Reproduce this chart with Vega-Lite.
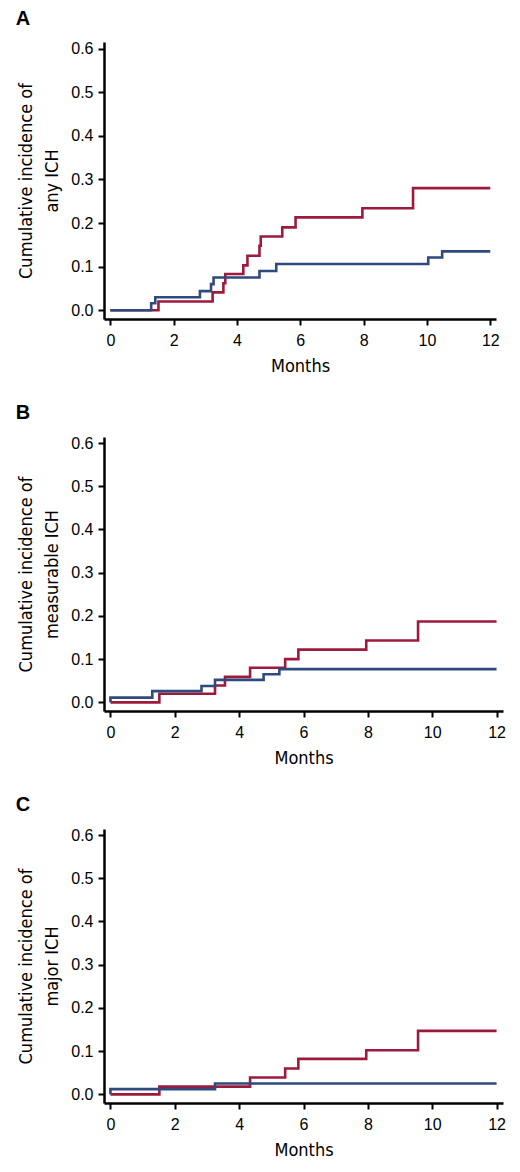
{
  "$schema": "https://vega.github.io/schema/vega-lite/v6.json",
  "padding": {"left": 15, "top": 8, "right": 8, "bottom": 5},
  "background": "white",
  "spacing": 28,
  "datasets": {
    "ich": [
      {"panel": "A", "arm": "Arm 1", "i": 1, "t": 0, "v": 0},
      {"panel": "A", "arm": "Arm 1", "i": 2, "t": 1.52, "v": 0.02},
      {"panel": "A", "arm": "Arm 1", "i": 3, "t": 3.23, "v": 0.041},
      {"panel": "A", "arm": "Arm 1", "i": 4, "t": 3.57, "v": 0.062},
      {"panel": "A", "arm": "Arm 1", "i": 5, "t": 3.63, "v": 0.083},
      {"panel": "A", "arm": "Arm 1", "i": 6, "t": 4.2, "v": 0.103},
      {"panel": "A", "arm": "Arm 1", "i": 7, "t": 4.33, "v": 0.125},
      {"panel": "A", "arm": "Arm 1", "i": 8, "t": 4.71, "v": 0.148},
      {"panel": "A", "arm": "Arm 1", "i": 9, "t": 4.75, "v": 0.169},
      {"panel": "A", "arm": "Arm 1", "i": 10, "t": 5.43, "v": 0.19},
      {"panel": "A", "arm": "Arm 1", "i": 11, "t": 5.85, "v": 0.213},
      {"panel": "A", "arm": "Arm 1", "i": 12, "t": 7.96, "v": 0.234},
      {"panel": "A", "arm": "Arm 1", "i": 13, "t": 9.56, "v": 0.28},
      {"panel": "A", "arm": "Arm 1", "i": 14, "t": 12, "v": 0.28},
      {"panel": "A", "arm": "Arm 2", "i": 1, "t": 0, "v": 0},
      {"panel": "A", "arm": "Arm 2", "i": 2, "t": 1.29, "v": 0.016},
      {"panel": "A", "arm": "Arm 2", "i": 3, "t": 1.42, "v": 0.03},
      {"panel": "A", "arm": "Arm 2", "i": 4, "t": 2.83, "v": 0.044},
      {"panel": "A", "arm": "Arm 2", "i": 5, "t": 3.18, "v": 0.06},
      {"panel": "A", "arm": "Arm 2", "i": 6, "t": 3.26, "v": 0.075},
      {"panel": "A", "arm": "Arm 2", "i": 7, "t": 4.71, "v": 0.09},
      {"panel": "A", "arm": "Arm 2", "i": 8, "t": 5.24, "v": 0.106},
      {"panel": "A", "arm": "Arm 2", "i": 9, "t": 10.04, "v": 0.121},
      {"panel": "A", "arm": "Arm 2", "i": 10, "t": 10.48, "v": 0.135},
      {"panel": "A", "arm": "Arm 2", "i": 11, "t": 12, "v": 0.135},
      {"panel": "B", "arm": "Arm 1", "i": 1, "t": 0, "v": 0},
      {"panel": "B", "arm": "Arm 1", "i": 2, "t": 1.52, "v": 0.02},
      {"panel": "B", "arm": "Arm 1", "i": 3, "t": 3.25, "v": 0.039},
      {"panel": "B", "arm": "Arm 1", "i": 4, "t": 3.56, "v": 0.059},
      {"panel": "B", "arm": "Arm 1", "i": 5, "t": 4.34, "v": 0.08},
      {"panel": "B", "arm": "Arm 1", "i": 6, "t": 5.43, "v": 0.1},
      {"panel": "B", "arm": "Arm 1", "i": 7, "t": 5.84, "v": 0.122},
      {"panel": "B", "arm": "Arm 1", "i": 8, "t": 7.95, "v": 0.143},
      {"panel": "B", "arm": "Arm 1", "i": 9, "t": 9.56, "v": 0.187},
      {"panel": "B", "arm": "Arm 1", "i": 10, "t": 12, "v": 0.187},
      {"panel": "B", "arm": "Arm 2", "i": 1, "t": 0, "v": 0},
      {"panel": "B", "arm": "Arm 2", "i": 2, "t": 0, "v": 0.011},
      {"panel": "B", "arm": "Arm 2", "i": 3, "t": 1.3, "v": 0.026},
      {"panel": "B", "arm": "Arm 2", "i": 4, "t": 2.83, "v": 0.038},
      {"panel": "B", "arm": "Arm 2", "i": 5, "t": 3.25, "v": 0.052},
      {"panel": "B", "arm": "Arm 2", "i": 6, "t": 4.76, "v": 0.065},
      {"panel": "B", "arm": "Arm 2", "i": 7, "t": 5.25, "v": 0.077},
      {"panel": "B", "arm": "Arm 2", "i": 8, "t": 12, "v": 0.077},
      {"panel": "C", "arm": "Arm 1", "i": 1, "t": 0, "v": 0},
      {"panel": "C", "arm": "Arm 1", "i": 2, "t": 1.52, "v": 0.018},
      {"panel": "C", "arm": "Arm 1", "i": 3, "t": 4.34, "v": 0.039},
      {"panel": "C", "arm": "Arm 1", "i": 4, "t": 5.43, "v": 0.06},
      {"panel": "C", "arm": "Arm 1", "i": 5, "t": 5.84, "v": 0.082},
      {"panel": "C", "arm": "Arm 1", "i": 6, "t": 7.95, "v": 0.102},
      {"panel": "C", "arm": "Arm 1", "i": 7, "t": 9.56, "v": 0.147},
      {"panel": "C", "arm": "Arm 1", "i": 8, "t": 12, "v": 0.147},
      {"panel": "C", "arm": "Arm 2", "i": 1, "t": 0, "v": 0},
      {"panel": "C", "arm": "Arm 2", "i": 2, "t": 0, "v": 0.012},
      {"panel": "C", "arm": "Arm 2", "i": 3, "t": 3.25, "v": 0.025},
      {"panel": "C", "arm": "Arm 2", "i": 4, "t": 12, "v": 0.025}
    ]
  },
  "vconcat": [
    {
      "title": "A",
      "width": 392,
      "height": 277,
      "data": {"name": "ich"},
      "transform": [{"filter": "datum.panel == 'A'"}],
      "mark": {"type": "line", "interpolate": "step-after", "strokeWidth": 2.6},
      "encoding": {
        "x": {"field": "t", "type": "quantitative", "title": "Months",
              "scale": {"domain": [-0.2, 12.18], "nice": false, "zero": false},
              "axis": {"values": [0, 2, 4, 6, 8, 10, 12]}},
        "y": {"field": "v", "type": "quantitative", "title": ["Cumulative incidence of", "any ICH"],
              "scale": {"domain": [-0.02, 0.615], "nice": false, "zero": false},
              "axis": {"values": [0, 0.1, 0.2, 0.3, 0.4, 0.5, 0.6], "format": ".1f"}},
        "color": {"field": "arm", "type": "nominal", "legend": null,
                  "scale": {"domain": ["Arm 1", "Arm 2"], "range": ["#9e1a3c", "#2f4a7c"]}},
        "order": {"field": "i", "type": "quantitative"}
      }
    },
    {
      "title": "B",
      "width": 399,
      "height": 274,
      "data": {"name": "ich"},
      "transform": [{"filter": "datum.panel == 'B'"}],
      "mark": {"type": "line", "interpolate": "step-after", "strokeWidth": 2.6},
      "encoding": {
        "x": {"field": "t", "type": "quantitative", "title": "Months",
              "scale": {"domain": [-0.2, 12.2], "nice": false, "zero": false},
              "axis": {"values": [0, 2, 4, 6, 8, 10, 12]}},
        "y": {"field": "v", "type": "quantitative", "title": ["Cumulative incidence of", "measurable ICH"],
              "scale": {"domain": [-0.02, 0.614], "nice": false, "zero": false},
              "axis": {"values": [0, 0.1, 0.2, 0.3, 0.4, 0.5, 0.6], "format": ".1f"}},
        "color": {"field": "arm", "type": "nominal", "legend": null,
                  "scale": {"domain": ["Arm 1", "Arm 2"], "range": ["#9e1a3c", "#2f4a7c"]}},
        "order": {"field": "i", "type": "quantitative"}
      }
    },
    {
      "title": "C",
      "width": 399,
      "height": 274,
      "data": {"name": "ich"},
      "transform": [{"filter": "datum.panel == 'C'"}],
      "mark": {"type": "line", "interpolate": "step-after", "strokeWidth": 2.6},
      "encoding": {
        "x": {"field": "t", "type": "quantitative", "title": "Months",
              "scale": {"domain": [-0.2, 12.2], "nice": false, "zero": false},
              "axis": {"values": [0, 2, 4, 6, 8, 10, 12]}},
        "y": {"field": "v", "type": "quantitative", "title": ["Cumulative incidence of", "major ICH"],
              "scale": {"domain": [-0.02, 0.614], "nice": false, "zero": false},
              "axis": {"values": [0, 0.1, 0.2, 0.3, 0.4, 0.5, 0.6], "format": ".1f"}},
        "color": {"field": "arm", "type": "nominal", "legend": null,
                  "scale": {"domain": ["Arm 1", "Arm 2"], "range": ["#9e1a3c", "#2f4a7c"]}},
        "order": {"field": "i", "type": "quantitative"}
      }
    }
  ],
  "config": {
    "view": {"stroke": null},
    "title": {"anchor": "start", "frame": "bounds", "font": "Liberation Sans", "fontSize": 20,
              "fontWeight": "bold", "color": "black", "offset": 12, "dx": -2},
    "axis": {
      "grid": false,
      "domainColor": "black", "domainWidth": 2.5,
      "tickColor": "black", "tickWidth": 2, "tickSize": 6,
      "labelFont": "Liberation Sans", "labelFontSize": 16, "labelColor": "black",
      "titleFont": "DejaVu Sans Condensed, Roboto, sans-serif", "titleFontSize": 18, "titleFontWeight": "normal",
      "titleColor": "black"
    },
    "axisX": {"labelPadding": 7, "titlePadding": 9},
    "axisY": {"titleLineHeight": 26, "labelPadding": 5, "titlePadding": 9}
  }
}
